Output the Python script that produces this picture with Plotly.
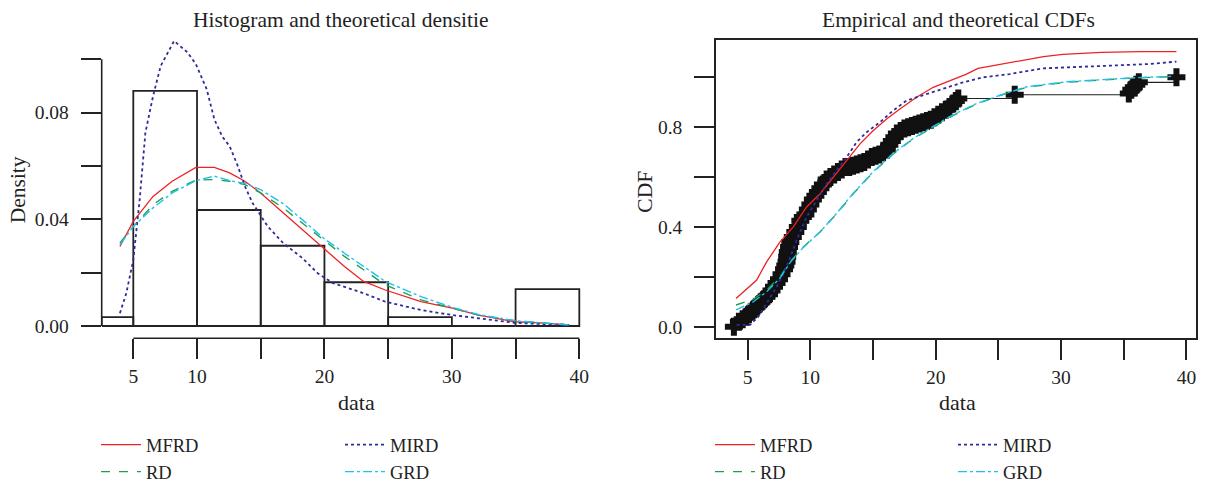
import plotly.graph_objects as go

# ---------------- data ----------------
# Histogram (left)
bin_edges = [2.52, 5, 10, 15, 20, 25, 30, 35, 40]
bin_density = [0.0033, 0.0882, 0.0435, 0.0301, 0.0164, 0.0033, 0.0, 0.0138]

# Theoretical densities (left)
dens_x = [3.95, 5.0, 6.55, 8.05, 9.91, 11.36, 12.56, 13.76, 14.99, 16.76, 18.26,
          19.89, 21.57, 23.07, 24.78, 27.58, 30.04, 32.08, 34.93, 36.89, 39.2]
dens_mfrd = [0.0298, 0.0392, 0.0486, 0.0543, 0.0595, 0.0595, 0.0574, 0.0543, 0.0499, 0.0424, 0.0361,
             0.0292, 0.0223, 0.0167, 0.0135, 0.0091, 0.0067, 0.0041, 0.0016, 0.0012, 0.0004]
dens_rd = [0.0311, 0.0373, 0.0455, 0.0505, 0.0547, 0.0549, 0.0543, 0.0530, 0.0499, 0.0443, 0.0386,
           0.0326, 0.0261, 0.0211, 0.0154, 0.0098, 0.0067, 0.0041, 0.0020, 0.0012, 0.0004]
dens_grd = [0.0305, 0.0373, 0.0443, 0.0499, 0.0545, 0.0562, 0.0545, 0.0535, 0.0511, 0.0459, 0.0399,
            0.0331, 0.0273, 0.0223, 0.0167, 0.0110, 0.0070, 0.0043, 0.0020, 0.0012, 0.0004]
mird_x = [3.95, 4.45, 5.0, 5.5, 5.95, 6.55, 7.15, 8.2, 9.25, 9.91, 10.76, 11.36, 11.96, 12.56,
          13.16, 13.76, 14.36, 15.56, 16.76, 18.26, 19.47, 20.67, 23.07, 24.78, 27.58, 30.04,
          32.08, 34.93, 36.89, 39.2]
dens_mird = [0.0048, 0.0123, 0.0248, 0.0474, 0.0725, 0.0862, 0.0975, 0.1069, 0.1026, 0.0982,
             0.0888, 0.0775, 0.0712, 0.0674, 0.0605, 0.0524, 0.0461, 0.0373, 0.0311, 0.0255,
             0.0198, 0.0161, 0.0123, 0.0091, 0.0060, 0.0041, 0.0029, 0.0012, 0.0008, 0.0004]

# Theoretical CDFs (right)
cdf_mfrd_x = [4.07, 5.72, 6.51, 7.58, 8.64, 9.70, 10.77, 11.83, 12.89, 13.96, 15.02, 16.08,
              17.14, 18.47, 19.80, 21.40, 22.45, 23.38, 25.53, 27.06, 28.6, 30.14, 33.2, 36.28, 39.2]
cdf_mfrd = [0.113, 0.187, 0.26, 0.34, 0.40, 0.48, 0.533, 0.60, 0.667, 0.733, 0.787, 0.833,
            0.873, 0.92, 0.96, 0.993, 1.013, 1.036, 1.056, 1.07, 1.083, 1.092, 1.10, 1.103, 1.103]
cdf_mird_x = [4.12, 5.19, 5.85, 6.51, 7.31, 8.11, 8.91, 9.70, 10.5, 11.3, 12.1, 12.89, 13.69,
              14.49, 15.55, 16.61, 17.68, 19.27, 20.87, 22.19, 23.79, 25.91, 28.6, 31.67,
              34.75, 36.9, 39.2]
cdf_mird = [0.007, 0.007, 0.04, 0.093, 0.16, 0.24, 0.347, 0.44, 0.507, 0.573, 0.627, 0.68,
            0.74, 0.78, 0.82, 0.867, 0.907, 0.933, 0.96, 0.98, 1.0, 1.013, 1.036, 1.043,
            1.05, 1.053, 1.063]
cdf_rd_x = [4.07, 5.45, 6.51, 7.58, 8.38, 9.44, 10.77, 12.1, 13.42, 15.02, 16.61, 18.2, 19.8,
            21.4, 23.26, 25.12, 27.24, 30.43, 33.09, 35.75, 38.94]
cdf_rd = [0.087, 0.11, 0.147, 0.20, 0.26, 0.32, 0.38, 0.453, 0.533, 0.62, 0.693, 0.753, 0.80,
          0.847, 0.893, 0.927, 0.96, 0.98, 0.989, 0.997, 1.003]
cdf_grd = [0.067, 0.10, 0.14, 0.195, 0.257, 0.318, 0.38, 0.455, 0.535, 0.622, 0.695, 0.755, 0.803,
           0.85, 0.895, 0.928, 0.962, 0.982, 0.99, 0.998, 1.004]

# Empirical CDF (right)
emp_x = [3.9, 4.3, 4.6, 4.9, 5.1, 5.3, 5.5, 5.7, 5.9, 6.1, 6.3, 6.5, 6.7, 6.9, 7.1, 7.3, 7.5,
         7.7, 7.9, 8.0, 8.1, 8.15, 8.2, 8.3, 8.4, 8.6, 8.8, 9.0, 9.2, 9.4, 9.6, 9.8, 10.0,
         10.2, 10.4, 10.6, 10.8, 11.0, 11.3, 11.6, 11.9, 12.2, 12.5, 12.8, 13.1, 13.4, 13.7,
         14.0, 14.3, 14.6, 14.9, 15.2, 15.5, 15.8, 16.1, 16.3, 16.5, 16.7, 16.9, 17.2, 17.5,
         17.8, 18.1, 18.4, 18.7, 19.0, 19.3, 19.6, 19.9, 20.2, 20.5, 20.8, 21.1, 21.4, 21.6,
         21.8, 26.3, 35.4, 35.6, 35.8, 36.0, 36.2, 39.2]
emp_f = [0.00, 0.02, 0.03, 0.04, 0.05, 0.06, 0.07, 0.08, 0.09, 0.10, 0.11, 0.12, 0.13, 0.145,
         0.16, 0.175, 0.19, 0.21, 0.23, 0.245, 0.26, 0.28, 0.30, 0.32, 0.34, 0.36, 0.38, 0.40,
         0.425, 0.44, 0.45, 0.47, 0.49, 0.51, 0.525, 0.54, 0.555, 0.57, 0.59, 0.60, 0.61, 0.62,
         0.63, 0.64, 0.64, 0.645, 0.65, 0.655, 0.66, 0.67, 0.68, 0.685, 0.69, 0.70, 0.71, 0.73,
         0.745, 0.76, 0.775, 0.785, 0.795, 0.80, 0.805, 0.81, 0.815, 0.82, 0.825, 0.83, 0.84,
         0.85, 0.86, 0.87, 0.88, 0.895, 0.905, 0.915, 0.93, 0.935, 0.95, 0.96, 0.97, 0.98, 1.00]

x_ticks = [5, 10, 15, 20, 25, 30, 35, 40]
x_ticktext = ["5", "10", "", "20", "", "30", "", "40"]
dens_ticks = [0.0, 0.02, 0.04, 0.06, 0.08, 0.10]
dens_ticktext = ["0.00", "", "0.04", "", "0.08", ""]
cdf_ticks = [0.0, 0.2, 0.4, 0.6, 0.8, 1.0]
cdf_ticktext = ["0.0", "", "0.4", "", "0.8", ""]

colors = {"MFRD": "#ee2222", "MIRD": "#2c2c9c", "RD": "#1fa050", "GRD": "#1ec0f0"}
dashes = {"MFRD": "solid", "MIRD": "dot", "RD": "dash", "GRD": "dashdot"}
widths = {"MFRD": 1.3, "MIRD": 1.8, "RD": 1.4, "GRD": 1.4}

FONT = "Liberation Serif"
INK = "#222222"
W, H = 1205, 486

fig = go.Figure()

# histogram outline built from edges/densities
hx, hy = [], []
for i, d in enumerate(bin_density):
    e0, e1 = bin_edges[i], bin_edges[i + 1]
    hx += [e0, e0, e1, e1, e0, None]
    hy += [0, d, d, 0, 0, None]
fig.add_trace(go.Scatter(x=hx, y=hy, mode="lines", line=dict(color=INK, width=1.8),
                         showlegend=False, hoverinfo="skip", xaxis="x", yaxis="y"))

left = {"MFRD": (dens_x, dens_mfrd), "MIRD": (mird_x, dens_mird),
        "RD": (dens_x, dens_rd), "GRD": (dens_x, dens_grd)}
right = {"MFRD": (cdf_mfrd_x, cdf_mfrd), "MIRD": (cdf_mird_x, cdf_mird),
         "RD": (cdf_rd_x, cdf_rd), "GRD": (cdf_rd_x, cdf_grd)}
left_legend = {"MFRD": "legend", "RD": "legend", "MIRD": "legend2", "GRD": "legend2"}
right_legend = {"MFRD": "legend3", "RD": "legend3", "MIRD": "legend4", "GRD": "legend4"}

for name in ["MFRD", "RD", "MIRD", "GRD"]:
    xs, ys = left[name]
    fig.add_trace(go.Scatter(x=xs, y=ys, mode="lines", name=name,
                             line=dict(color=colors[name], dash=dashes[name], width=widths[name]),
                             xaxis="x", yaxis="y", legend=left_legend[name]))

# empirical cdf
fig.add_trace(go.Scatter(x=emp_x, y=emp_f, mode="lines+markers", line=dict(color=INK, width=1.2, shape="hv"),
                         marker=dict(symbol="cross", size=15, color="#111111"),
                         showlegend=False, xaxis="x2", yaxis="y2"))

for name in ["MFRD", "RD", "MIRD", "GRD"]:
    xs, ys = right[name]
    fig.add_trace(go.Scatter(x=xs, y=ys, mode="lines", name=name,
                             line=dict(color=colors[name], dash=dashes[name], width=widths[name]),
                             xaxis="x2", yaxis="y2", legend=right_legend[name]))

def px_x(p):
    return p / W

def px_y(p):
    return 1 - p / H

tickfont = dict(family=FONT, size=19.5, color=INK)
common_axis = dict(showgrid=False, zeroline=False, ticks="outside", ticklen=20, tickwidth=1.6,
                   tickcolor=INK, tickfont=tickfont)

ydom = [px_y(338.3), px_y(40)]
fig.update_layout(
    width=W, height=H, margin=dict(l=0, r=0, t=0, b=0, autoexpand=False),
    paper_bgcolor="white", plot_bgcolor="white",
    font=dict(family=FONT, size=19, color=INK),
    xaxis=dict(domain=[px_x(101.7), px_x(590)], range=[2.52, 40.84], tickmode="array",
               tickvals=x_ticks, ticktext=x_ticktext, showline=False, ticklabelstandoff=0,
               **common_axis),
    yaxis=dict(domain=ydom, range=[-0.00461, 0.10724], tickmode="array",
               tickvals=dens_ticks, ticktext=dens_ticktext, showline=False, ticklabelstandoff=8,
               **common_axis),
    xaxis2=dict(domain=[px_x(716), px_x(1196)], range=[2.473, 40.76], anchor="y2", tickmode="array",
                tickvals=x_ticks, ticktext=x_ticktext, showline=True, mirror=True,
                linecolor=INK, linewidth=1.6, ticklabelstandoff=0, **common_axis),
    yaxis2=dict(domain=ydom, range=[-0.0465, 1.1496], anchor="x2", tickmode="array",
                tickvals=cdf_ticks, ticktext=cdf_ticktext, showline=True, mirror=True,
                linecolor=INK, linewidth=1.6, ticklabelstandoff=8, **common_axis),
)

legend_common = dict(orientation="v", xanchor="left", yanchor="top", bgcolor="rgba(0,0,0,0)",
                     font=dict(family=FONT, size=18.5, color=INK), itemwidth=40)
fig.update_layout(
    legend=dict(x=px_x(96), y=px_y(426), **legend_common),
    legend2=dict(x=px_x(340), y=px_y(426), **legend_common),
    legend3=dict(x=px_x(710), y=px_y(426), **legend_common),
    legend4=dict(x=px_x(953), y=px_y(426), **legend_common),
)

# left axis lines (R style, spanning first to last tick)
fig.add_shape(type="line", xref="x", yref="y domain", x0=x_ticks[0], x1=x_ticks[-1], y0=0, y1=0,
              line=dict(color=INK, width=1.6))
fig.add_shape(type="line", xref="x domain", yref="y", x0=0, x1=0, y0=dens_ticks[0], y1=dens_ticks[-1],
              line=dict(color=INK, width=1.6))

ann = [
    ("Histogram and theoretical densitie", 341, 20, 0, 21.5),
    ("Empirical and theoretical CDFs", 958.5, 20, 0, 21.5),
    ("data", 356.7, 402, 0, 22),
    ("data", 958, 402, 0, 22),
    ("Density", 18.3, 190, -90, 21.5),
    ("CDF", 645, 191.7, -90, 21.5),
]
for text, ax, ay, rot, fs in ann:
    fig.add_annotation(text=text, x=px_x(ax), y=px_y(ay), xref="paper", yref="paper",
                       showarrow=False, textangle=rot, xanchor="center", yanchor="middle",
                       font=dict(family=FONT, size=fs, color=INK))

fig.write_html("out.html", config={"displayModeBar": False},
               post_script="document.body.style.margin='0';")
